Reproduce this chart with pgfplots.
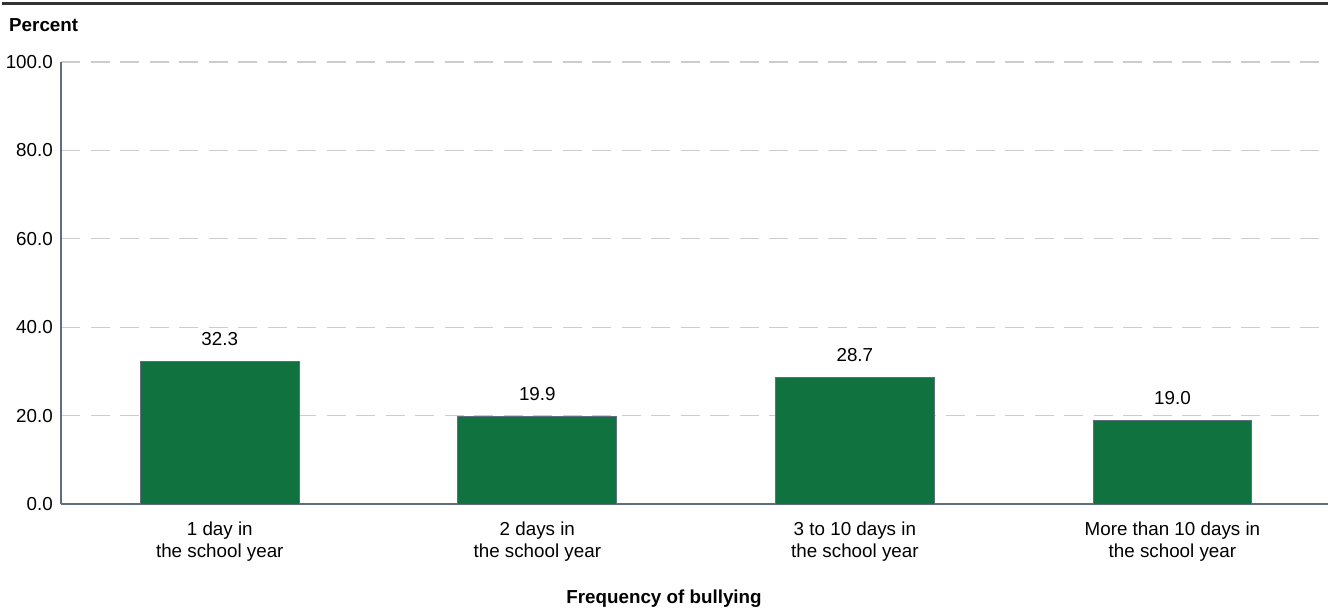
\documentclass[border=0pt]{standalone}
\usepackage{fontspec}
\setmainfont{Liberation Sans}
\usepackage{pgfplots}
\pgfplotsset{compat=1.18}
\definecolor{barg}{HTML}{10733F}
\definecolor{axc}{HTML}{5E6E7E}
\definecolor{gridc}{HTML}{CCCCCC}
\definecolor{rulec}{HTML}{333333}
\begin{document}
\fontsize{18.8bp}{22bp}\selectfont
\begin{tikzpicture}
\useasboundingbox (0,0) rectangle (1328bp,611bp);
\fill[rulec] (2bp,605.8bp) rectangle (1328bp,609.4bp);
\node[anchor=base west, inner sep=0pt, font=\bfseries] at (9bp,579bp) {Percent};
\begin{axis}[
  at={(61bp,107bp)}, anchor=south west, scale only axis,
  width=1267bp, height=442bp,
  xmin=-0.5, xmax=3.49, ymin=0, ymax=100,
  axis x line=bottom, axis y line=left,
  axis line style={-, draw=axc, line width=1.5bp},
  ytick={0,20,40,60,80,100}, xtick={0,1,2,3},
  xticklabels={{1 day in\\the school year},{2 days in\\the school year},{3 to 10 days in\\the school year},{More than 10 days in\\the school year}},
  major tick length=0pt,
  ymajorgrids,
  major grid style={draw=gridc, line width=1.2bp, dash pattern=on 19bp off 10.5bp},
  /pgf/number format/assume math mode=true,
  yticklabel={\pgfmathprintnumber[fixed,fixed zerofill,precision=1]{\tick}},
  yticklabel style={anchor=east, inner sep=0pt, xshift=-8bp},
  xticklabel style={align=center, anchor=north, inner sep=0pt, yshift=-18bp},
  ybar, bar width=0.5,
  nodes near coords={\pgfmathprintnumber[fixed,fixed zerofill,precision=1]{\pgfplotspointmeta}},
  every node near coord/.append style={anchor=base, inner sep=0pt, yshift=16bp, black},
]
\addplot[ybar, fill=barg, draw=axc, line width=1bp] coordinates {(0,32.3) (1,19.9) (2,28.7) (3,19.0)};
\end{axis}
\node[anchor=base, inner sep=0pt, font=\bfseries] at (664bp,8bp) {Frequency of bullying};
\end{tikzpicture}
\end{document}
